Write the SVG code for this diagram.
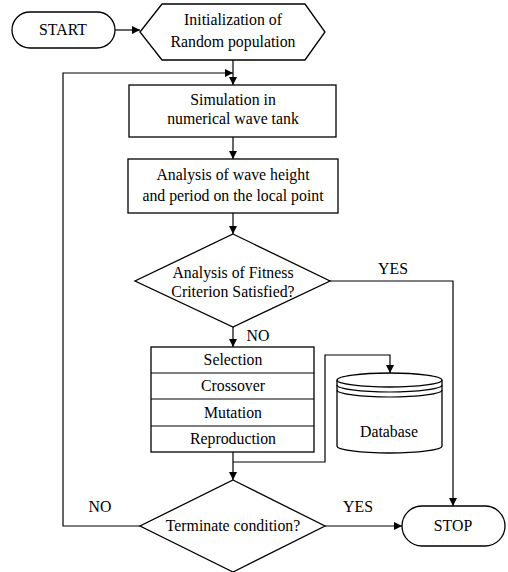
<svg xmlns="http://www.w3.org/2000/svg" width="508" height="572" viewBox="0 0 508 572" font-family="'Liberation Serif', 'Times New Roman', 'DejaVu Serif', serif">
<style>
.s{fill:#fff;stroke:#000;stroke-width:1.3}
.c{fill:none;stroke:#000;stroke-width:1.2}
.t{font-family:'Liberation Serif','Times New Roman','DejaVu Serif',serif;font-size:15.8px;fill:#000;text-anchor:middle}
</style>
<defs>
<marker id="a" viewBox="0 0 10 10" refX="10" refY="5" markerWidth="8" markerHeight="8" markerUnits="userSpaceOnUse" orient="auto">
<path d="M0,0 L10,5 L0,10 z" fill="#000"/>
</marker>
</defs>
<rect width="508" height="572" fill="#fff"/>
<g id="connectors">
<path class="c" d="M115,30 H140" marker-end="url(#a)"/>
<path class="c" d="M233,60 V85" marker-end="url(#a)"/>
<path class="c" d="M140,526 H63 V73 H233" marker-end="url(#a)"/>
<path class="c" d="M233,137 V159" marker-end="url(#a)"/>
<path class="c" d="M233,213 V234" marker-end="url(#a)"/>
<path class="c" d="M233,327 V347" marker-end="url(#a)"/>
<path class="c" d="M330,281 H453 V506" marker-end="url(#a)"/>
<path class="c" d="M233,452 V480" marker-end="url(#a)"/>
<path class="c" d="M233,462 H325 V355 H390 V373" marker-end="url(#a)"/>
<path class="c" d="M325,526 H402" marker-end="url(#a)"/>
<text class="t" x="393" y="274">YES</text>
<text class="t" x="258" y="341">NO</text>
<text class="t" x="100" y="512">NO</text>
<text class="t" x="358" y="512">YES</text>
</g>
<g id="start">
<rect class="s" x="12" y="12" width="103" height="36" rx="18"/>
<text class="t" x="63" y="35">START</text>
</g>
<g id="init">
<polygon class="s" points="140,32 162,4 305,4 325,32 305,60 162,60"/>
<text class="t" x="233" y="25">Initialization of</text>
<text class="t" x="233" y="47">Random population</text>
</g>
<g id="simulation">
<rect class="s" x="129" y="85" width="207" height="52"/>
<text class="t" x="233" y="105">Simulation in</text>
<text class="t" x="233" y="124">numerical wave tank</text>
</g>
<g id="analysis">
<rect class="s" x="128" y="159" width="210" height="54"/>
<text class="t" x="233" y="180">Analysis of wave height</text>
<text class="t" x="233" y="201">and period on the local point</text>
</g>
<g id="fitness">
<polygon class="s" points="233,234 330,281 233,327 135,281"/>
<text class="t" x="233" y="278">Analysis of Fitness</text>
<text class="t" x="233" y="297">Criterion Satisfied?</text>
</g>
<g id="operators">
<rect class="s" x="151" y="347" width="163" height="105"/>
<path class="c" d="M151,373 H314 M151,399 H314 M151,426 H314"/>
<text class="t" x="233" y="365">Selection</text>
<text class="t" x="233" y="391">Crossover</text>
<text class="t" x="233" y="418">Mutation</text>
<text class="t" x="233" y="444">Reproduction</text>
</g>
<g id="database">
<path class="s" d="M337,380 V446 A52.5,7 0 0 0 442,446 V380"/>
<ellipse class="s" cx="389.5" cy="380" rx="52.5" ry="7"/>
<path class="c" d="M337,385 A52.5,7 0 0 0 442,385 M337,390 A52.5,7 0 0 0 442,390"/>
<text class="t" x="389" y="437">Database</text>
</g>
<g id="terminate">
<polygon class="s" points="233,480 325,526 233,572 140,526"/>
<text class="t" x="233" y="531">Terminate condition?</text>
</g>
<g id="stop">
<rect class="s" x="402" y="506" width="103" height="40" rx="20"/>
<text class="t" x="453" y="531">STOP</text>
</g>
</svg>
